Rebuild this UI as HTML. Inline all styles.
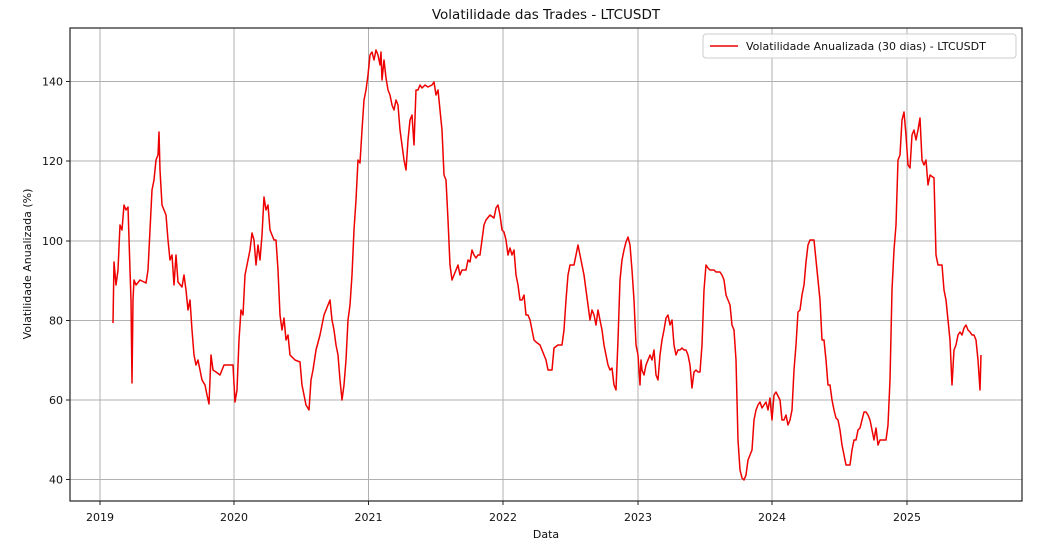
<!DOCTYPE html>
<html><head><style>
html,body{margin:0;padding:0;background:#fff;}
svg{display:block;font-family:"DejaVu Sans","Liberation Sans",sans-serif;}
</style></head><body>
<svg width="1045" height="547" viewBox="0 0 1045 547">
<rect width="1045" height="547" fill="#fff"/>
<text x="546" y="19" font-size="13.5" text-anchor="middle" fill="#111">Volatilidade das Trades - LTCUSDT</text>
<g stroke="#b0b0b0" stroke-width="1">
<line x1="100" y1="28" x2="100" y2="501"/><line x1="234" y1="28" x2="234" y2="501"/>
<line x1="368.5" y1="28" x2="368.5" y2="501"/><line x1="503" y1="28" x2="503" y2="501"/>
<line x1="638" y1="28" x2="638" y2="501"/><line x1="772" y1="28" x2="772" y2="501"/>
<line x1="907" y1="28" x2="907" y2="501"/>
<line x1="70" y1="81.5" x2="1022" y2="81.5"/><line x1="70" y1="161" x2="1022" y2="161"/>
<line x1="70" y1="241" x2="1022" y2="241"/><line x1="70" y1="320.5" x2="1022" y2="320.5"/>
<line x1="70" y1="400" x2="1022" y2="400"/><line x1="70" y1="479.5" x2="1022" y2="479.5"/>
</g>
<polyline fill="none" stroke="#ee0000" stroke-width="1.5" stroke-linejoin="round" points="113,323 114,262 116,285 118,270 120,225 122,230 124,205 126,210 128,207 130,270 131,300 132,383 133,300 134,280 136,285 140,280 146,283 148,270 150,230 152,190 154,180 156,160 158,155 159,132 160,170 162,205 164,210 166,215 168,240 170,260 172,255 174,285 176,255 178,282 182,287 184,275 186,290 188,310 190,300 192,330 194,355 196,365 198,360 200,370 202,380 205,385 207,395 209,404 210,380 211,355 213,370 216,372 220,375 224,365 228,365 233,365 235,402 237,390 239,340 241,310 243,315 245,275 247,265 250,250 252,233 254,240 256,265 258,245 260,260 262,235 264,197 266,210 268,205 270,230 272,235 274,240 276,240 278,270 280,315 282,330 284,318 286,340 288,335 290,355 295,360 300,362 302,385 306,405 309,410 311,380 313,370 316,350 320,335 324,315 326,310 328,305 330,300 332,320 334,330 336,345 338,355 340,380 342,400 344,385 346,360 348,320 350,305 352,275 354,230 356,200 358,160 360,163 362,130 364,100 366,90 368,75 370,55 372,52 374,60 376,50 378,55 380,65 381,52 382,80 384,60 386,78 388,90 390,95 392,105 394,110 396,100 398,105 400,130 402,145 404,160 406,170 408,140 410,120 412,115 414,145 416,90 418,90 420,85 422,88 425,85 428,87 432,85 434,82 436,95 438,90 440,110 442,130 444,175 446,180 448,220 450,265 452,280 454,275 456,270 458,265 460,275 462,270 466,270 468,260 470,262 472,250 474,255 476,258 478,255 480,255 482,240 484,225 486,220 490,215 494,218 496,208 498,205 500,215 502,230 504,232 506,240 508,255 510,248 512,255 514,250 516,275 518,285 520,300 522,300 524,295 526,315 528,315 530,320 532,330 534,340 536,342 540,345 544,355 546,360 548,370 552,370 554,348 558,345 562,345 564,330 566,300 568,275 570,265 574,265 576,255 578,245 580,255 582,265 584,275 586,290 588,305 590,320 592,310 594,315 596,325 598,310 600,320 602,330 604,345 606,355 608,365 610,370 612,368 614,385 616,390 618,340 620,280 622,260 624,250 626,242 628,237 630,245 632,270 634,300 636,345 638,355 640,385 641,360 642,370 644,375 646,365 648,360 650,355 652,360 654,350 656,375 658,380 660,355 662,340 664,330 666,318 668,315 670,325 672,320 674,345 676,355 678,350 680,350 682,348 684,350 686,350 688,355 690,365 692,388 694,372 696,370 698,372 700,372 702,345 704,290 706,265 708,268 710,270 714,270 716,272 720,272 722,275 724,280 726,295 728,300 730,305 732,325 734,330 736,360 738,440 740,470 742,478 744,480 746,475 748,460 752,450 754,420 756,410 758,405 760,402 762,408 766,402 768,410 770,398 772,420 774,395 776,392 780,400 782,420 784,420 786,415 788,425 790,420 792,410 794,370 796,345 798,312 800,310 802,295 804,285 806,262 808,245 810,240 814,240 816,260 818,280 820,300 822,340 824,340 826,360 828,385 830,385 832,400 834,410 836,418 838,420 840,430 842,445 844,455 846,465 848,465 850,465 852,450 854,440 856,440 858,430 860,428 862,420 864,412 866,412 868,415 870,420 872,430 874,440 876,428 878,445 880,440 882,440 886,440 888,425 890,380 892,290 894,250 896,225 898,160 900,155 902,120 904,112 906,135 908,165 910,168 912,135 914,130 916,140 918,130 920,118 922,160 924,165 926,160 928,185 930,175 934,178 936,255 938,265 940,265 942,265 944,290 946,300 948,320 950,340 952,385 954,350 956,345 958,335 960,332 962,335 964,328 966,325 968,330 970,332 972,335 974,335 976,340 978,360 980,390 981,355"/>
<rect x="70" y="28" width="952" height="473" fill="none" stroke="#222" stroke-width="1.2"/>
<g stroke="#222" stroke-width="1">
<line x1="100" y1="501" x2="100" y2="505"/><line x1="234" y1="501" x2="234" y2="505"/>
<line x1="368.5" y1="501" x2="368.5" y2="505"/><line x1="503" y1="501" x2="503" y2="505"/>
<line x1="638" y1="501" x2="638" y2="505"/><line x1="772" y1="501" x2="772" y2="505"/>
<line x1="907" y1="501" x2="907" y2="505"/>
<line x1="66" y1="81.5" x2="70" y2="81.5"/><line x1="66" y1="161" x2="70" y2="161"/>
<line x1="66" y1="241" x2="70" y2="241"/><line x1="66" y1="320.5" x2="70" y2="320.5"/>
<line x1="66" y1="400" x2="70" y2="400"/><line x1="66" y1="479.5" x2="70" y2="479.5"/>
</g>
<g font-size="11" fill="#111" text-anchor="middle">
<text x="100" y="521">2019</text><text x="234" y="521">2020</text><text x="368.5" y="521">2021</text>
<text x="503" y="521">2022</text><text x="638" y="521">2023</text><text x="772" y="521">2024</text><text x="907" y="521">2025</text>
<text x="546" y="538">Data</text>
</g>
<g font-size="11" fill="#111" text-anchor="end">
<text x="63" y="85.5">140</text><text x="63" y="165">120</text><text x="63" y="245">100</text>
<text x="63" y="324.5">80</text><text x="63" y="404">60</text><text x="63" y="483.5">40</text>
</g>
<text transform="translate(31,264) rotate(-90)" font-size="11" fill="#111" text-anchor="middle">Volatilidade Anualizada (%)</text>
<rect x="703" y="34" width="313" height="24" rx="3" fill="#fff" fill-opacity="0.85" stroke="#ccc"/>
<line x1="710" y1="46" x2="738" y2="46" stroke="#ee0000" stroke-width="1.5"/>
<text x="746" y="50" font-size="11" fill="#111">Volatilidade Anualizada (30 dias) - LTCUSDT</text>
</svg>
</body></html>
